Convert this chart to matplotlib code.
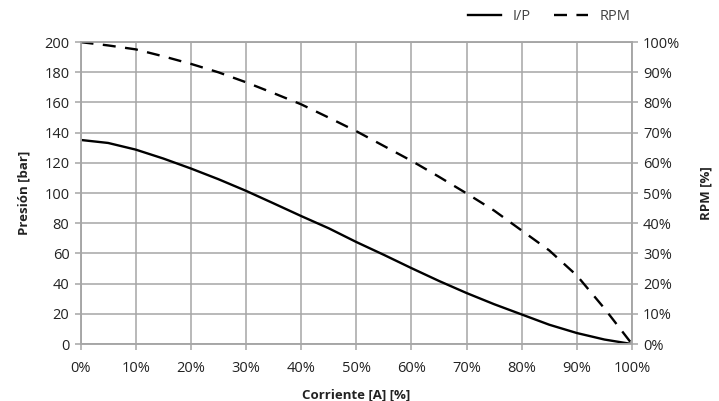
import numpy as np
import matplotlib
matplotlib.use("Agg")
import matplotlib.pyplot as plt
from matplotlib.ticker import FuncFormatter

# data
corriente = [0, 5, 10, 15, 20, 25, 30, 35, 40, 45, 50,
             55, 60, 65, 70, 75, 80, 85, 90, 95, 100]
presion_ip = [135.2, 133.2, 128.8, 122.9, 116.3, 109.2, 101.5, 93.2, 84.8, 76.7, 67.6,
              59.1, 50.3, 41.8, 33.8, 26.4, 19.6, 12.8, 7.3, 3.0, 0.0]
rpm = [100.0, 98.9, 97.6, 95.3, 92.8, 90.0, 86.7, 83.1, 79.4, 75.0, 70.5,
       65.6, 60.7, 55.4, 49.9, 44.2, 37.6, 31.0, 22.7, 11.8, 0.0]

x_ticks = np.arange(0, 101, 10)
left_ticks = np.arange(0, 201, 20)
right_ticks = np.arange(0, 101, 10)

plt.rcParams["font.family"] = ["Open Sans", "DejaVu Sans"]
plt.rcParams["font.size"] = 10

grid_col = "#a6a6a6"
text_col = "#222222"

fig = plt.figure(figsize=(7.19, 4.01), dpi=100)
ax = fig.add_axes([0.112, 0.142, 0.767, 0.753])
ax2 = ax.twinx()

l1, = ax.plot(corriente, presion_ip, color="black", lw=1.7, label="I/P")
l2, = ax2.plot(corriente, rpm, color="black", lw=1.7, dashes=(5.5, 4), label="RPM")

ax.set_xlim(0, 100)
ax.set_ylim(0, 200)
ax2.set_ylim(0, 100)
ax.set_xticks(x_ticks)
ax.set_yticks(left_ticks)
ax2.set_yticks(right_ticks)
ax.xaxis.set_major_formatter(FuncFormatter(lambda v, p: f"{v:.0f}%"))
ax2.yaxis.set_major_formatter(FuncFormatter(lambda v, p: f"{v:.0f}%"))

ax.grid(True, color=grid_col, lw=1.1)
for a in (ax, ax2):
    for s in a.spines.values():
        s.set_color(grid_col)
        s.set_linewidth(1.1)
    a.tick_params(colors=grid_col, labelcolor=text_col, length=4, width=1.1, labelsize=10.5)
ax.tick_params(axis="x", pad=8)
ax.tick_params(axis="y", pad=4)
ax2.tick_params(axis="y", pad=4)

ax.set_xlabel("Corriente [A] [%]", fontweight="bold", fontsize=9.5, color=text_col, labelpad=9)
ax.set_ylabel("Presión [bar]", fontweight="bold", fontsize=9.5, color=text_col, labelpad=10)
ax2.set_ylabel("RPM [%]", fontweight="bold", fontsize=9.5, color=text_col, labelpad=14)

fig.legend(handles=[l1, l2], loc="upper right", bbox_to_anchor=(0.895, 1.01),
           ncol=2, frameon=False, handlelength=2.3, columnspacing=1.6,
           fontsize=10.5, labelcolor="#444444")

fig.savefig("out.png", dpi=100)
